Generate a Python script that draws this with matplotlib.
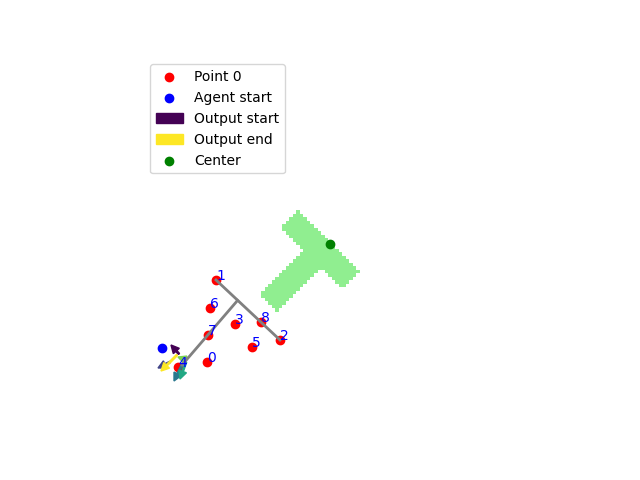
import matplotlib
matplotlib.use("Agg")
import matplotlib.pyplot as plt
import numpy as np
from matplotlib.path import Path
from matplotlib.patches import Patch
from matplotlib.colors import ListedColormap

# numbered points
pt_x = [207.3, 216.0, 280.0, 235.0, 178.3, 251.7, 210.0, 207.7, 261.0]
pt_y = [118.3, 200.0, 140.0, 156.0, 113.3, 132.7, 171.7, 144.7, 157.7]

agent_start = (162.3, 132.3)
center = (330.3, 235.7)

# skeleton lines (crossbar and stem)
bar_x = [216.0, 280.0]
bar_y = [200.0, 140.0]
stem_x = [237.5, 182.0]
stem_y = [179.5, 115.0]

# T shaped target outline
t_x = [298.5, 359.3, 342.3, 320.4, 276.6, 259.6, 303.4, 281.5]
t_y = [269.6, 208.8, 191.8, 213.7, 169.9, 186.9, 230.7, 252.6]

# output arrows (tail x, tail y, dx, dy)
arr_x = [179, 170, 184, 186, 186, 177]
arr_y = [126, 118, 119, 118, 120, 125]
arr_dx = [-8, -12, -10, -6, -8, -16]
arr_dy = [9, -6, -20, -17, 3, -16]

fig = plt.figure(figsize=(6.4, 4.8), dpi=100)
ax = fig.add_axes([143 / 640, 58.5 / 480, 370 / 640, 364 / 480])

# rasterise the T on a coarse grid
cell = 3.5
gx = np.arange(254, 366, cell)
gy = np.arange(165, 277, cell)
cx, cy = np.meshgrid(gx + cell / 2, gy + cell / 2)
path = Path(np.column_stack([t_x, t_y]))
inside = path.contains_points(np.column_stack([cx.ravel(), cy.ravel()])).reshape(cx.shape)
mask = np.ma.masked_where(~inside, np.ones(cx.shape))
ax.imshow(mask, cmap=ListedColormap(["lightgreen"]), origin="lower",
          extent=[gx[0], gx[-1] + cell, gy[0], gy[-1] + cell],
          interpolation="nearest", aspect="auto")

h_pt = ax.scatter(pt_x[0], pt_y[0], color="red", label="Point 0")
ax.scatter(pt_x[1:], pt_y[1:], color="red")
h_agent = ax.scatter(*agent_start, color="blue", label="Agent start")

cmap = plt.cm.viridis
n = len(arr_x)
for i in range(n):
    ax.arrow(arr_x[i], arr_y[i], arr_dx[i], arr_dy[i], color=cmap(i / (n - 1)),
             width=1.5, head_width=8, head_length=8, length_includes_head=True)

ax.plot(bar_x, bar_y, color="gray", lw=2)
ax.plot(stem_x, stem_y, color="gray", lw=2)

for i in range(len(pt_x)):
    ax.text(pt_x[i], pt_y[i], str(i), color="blue")

h_center = ax.scatter(*center, color="green", label="Center")

ax.set_xlim(143, 513)
ax.set_ylim(58.5, 422.5)
ax.axis("off")

handles = [h_pt, h_agent,
           Patch(color=cmap(0.0), label="Output start"),
           Patch(color=cmap(1.0), label="Output end"),
           h_center]
ax.legend(handles=handles, loc="upper left")

fig.savefig("out.png")
